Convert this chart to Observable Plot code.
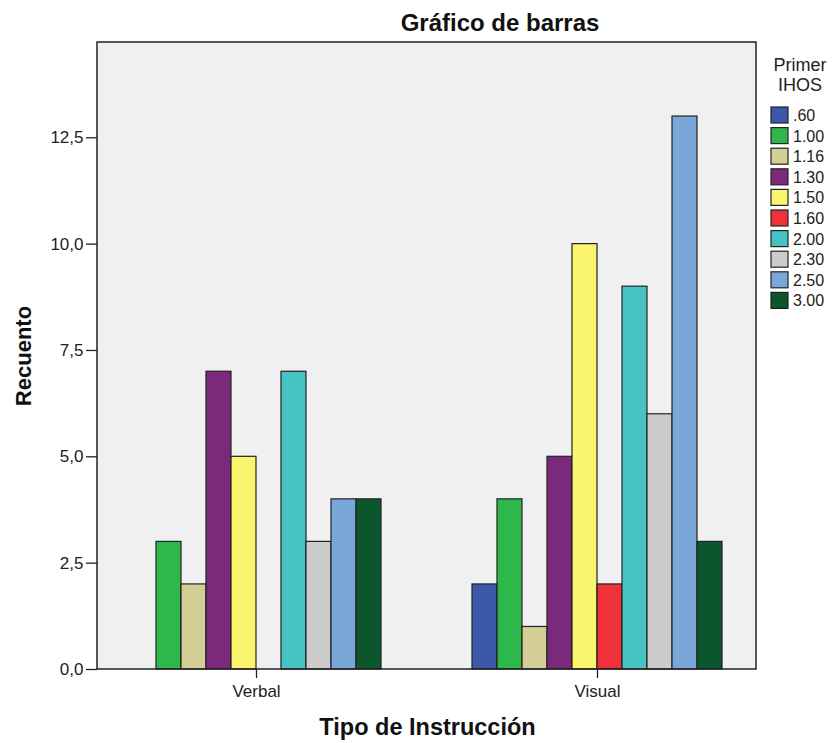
<!DOCTYPE html>
<html>
<head>
<meta charset="utf-8">
<script src="https://cdn.jsdelivr.net/npm/d3@7"></script>
<script src="https://cdn.jsdelivr.net/npm/@observablehq/plot@0.6"></script>
<style>
  html, body { margin: 0; padding: 0; background: #fff; }
  #chart { width: 836px; height: 743px; }
  svg { font-family: "Liberation Sans", Arial, sans-serif; }
</style>
</head>
<body>
<div id="chart"></div>
<script>
// ---- data ----
const groups = ["Verbal", "Visual"];
const ihosLevels = [".60", "1.00", "1.16", "1.30", "1.50", "1.60", "2.00", "2.30", "2.50", "3.00"];
const verbalCounts = [0, 3, 2, 7, 5, 0, 7, 3, 4, 4];
const visualCounts = [2, 4, 1, 5, 10, 2, 9, 6, 13, 3];
const ihosColors = ["#3d58a8", "#2eb84b", "#d3cd96", "#7a297b", "#f9f56e", "#ef3139", "#47c3c5", "#cccccc", "#79a7d7", "#0b562d"];
const yTicks = [0, 2.5, 5, 7.5, 10, 12.5];
const yMax = 14.74;
const titleText = "Gráfico de barras";
const xTitle = "Tipo de Instrucción";
const yTitle = "Recuento";
const legendTitle = ["Primer", "IHOS"];

const rows = [];
ihosLevels.forEach((k, i) => {
  rows.push({group: "Verbal", ihos: k, count: verbalCounts[i]});
  rows.push({group: "Visual", ihos: k, count: visualCounts[i]});
});
const data = rows.filter(d => d.count > 0);

const W = 836, H = 743;
const mL = 97, mR = 80, mT = 42, mB = 74;

const chart = Plot.plot({
  width: W,
  height: H,
  marginLeft: mL,
  marginRight: mR,
  marginTop: mT,
  marginBottom: mB,
  style: {fontFamily: "Liberation Sans, Arial, sans-serif", background: "transparent", color: "#222"},
  fx: {domain: groups, paddingInner: 23 / 341, paddingOuter: 0, label: null},
  x: {domain: ihosLevels, padding: 0, insetLeft: 32.5, insetRight: 32.5, axis: null},
  y: {domain: [0, yMax], label: null},
  color: {domain: ihosLevels, range: ihosColors},
  marks: [
    Plot.barY(data, {fx: "group", x: "ihos", y: "count", fill: "ihos", stroke: "#222", strokeWidth: 1.2, inset: 0}),
    Plot.axisY({ticks: yTicks, tickSize: 11, tickPadding: 3, fontSize: 17, tickFormat: d => d.toFixed(1).replace(".", ","), label: null, stroke: "#222", strokeWidth: 1.3}),
    Plot.axisFx({anchor: "bottom", tickSize: 9, tickPadding: 6, fontSize: 17, label: null, stroke: "#222", strokeWidth: 1.3})
  ]
});

document.getElementById("chart").appendChild(chart);

const svg = d3.select(chart);
const fxR = chart.scale("fx").range;
const yR = chart.scale("y").range;
const x0 = Math.min(...fxR), x1 = Math.max(...fxR);
const y0 = Math.min(...yR), y1 = Math.max(...yR);

// background behind everything
svg.insert("rect", ":first-child")
  .attr("x", x0).attr("y", y0).attr("width", x1 - x0).attr("height", y1 - y0)
  .attr("fill", "#f0f0f0");
// frame on top
svg.append("rect")
  .attr("x", x0).attr("y", y0).attr("width", x1 - x0).attr("height", y1 - y0)
  .attr("fill", "none").attr("stroke", "#222").attr("stroke-width", 1.5);

// title
svg.append("text").text(titleText)
  .attr("x", 500).attr("y", 30.5).attr("text-anchor", "middle")
  .attr("font-size", 24).attr("font-weight", "bold").attr("fill", "#111");

// x title
svg.append("text").text(xTitle)
  .attr("x", 427.5).attr("y", 735).attr("text-anchor", "middle")
  .attr("font-size", 23.5).attr("font-weight", "bold").attr("fill", "#111");

// y title
svg.append("text").text(yTitle)
  .attr("transform", "translate(31,356) rotate(-90)").attr("text-anchor", "middle")
  .attr("font-size", 22).attr("font-weight", "bold").attr("fill", "#111");

// legend
const lg = svg.append("g");
legendTitle.forEach((t, i) => {
  lg.append("text").text(t)
    .attr("x", 800).attr("y", 71 + i * 19.5).attr("text-anchor", "middle")
    .attr("font-size", 18).attr("fill", "#222");
});
ihosLevels.forEach((k, i) => {
  const cy = 115 + i * 20.6;
  lg.append("rect")
    .attr("x", 771).attr("y", cy - 8).attr("width", 17).attr("height", 16)
    .attr("fill", ihosColors[i]).attr("stroke", "#222").attr("stroke-width", 1.2);
  lg.append("text").text(k)
    .attr("x", 793).attr("y", cy + 6).attr("text-anchor", "start")
    .attr("font-size", 16).attr("fill", "#222");
});
</script>
</body>
</html>
